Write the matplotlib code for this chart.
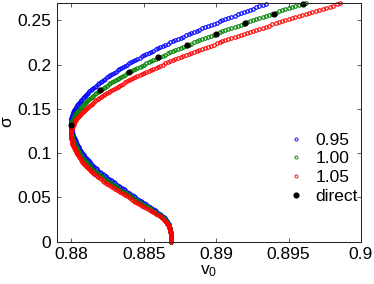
import matplotlib
matplotlib.use('Agg')
import matplotlib.pyplot as plt

plt.rcParams['font.family'] = ['Liberation Sans', 'DejaVu Sans']
plt.rcParams['font.size'] = 12.5
plt.rcParams['mathtext.fontset'] = 'custom'
plt.rcParams['mathtext.rm'] = 'Liberation Sans'
plt.rcParams['mathtext.it'] = 'Liberation Sans'

# v0 along the branch (lower branch from sigma=0, turning near 0.88, then upper branch)
v0 = [0.88690, 0.88690, 0.88690, 0.886895, 0.88689, 0.886885, 0.88688, 0.88687, 0.88686, 0.886845,
      0.88683, 0.886815, 0.88680, 0.886775, 0.88675, 0.886715, 0.88668, 0.88663, 0.88658, 0.886515,
      0.88645, 0.88637, 0.88629, 0.886195, 0.88610, 0.88599, 0.88588, 0.885765, 0.88565, 0.885525,
      0.88540, 0.885275, 0.88515, 0.88503, 0.88491, 0.88479, 0.88467, 0.88455, 0.88443, 0.884315,
      0.88420, 0.88408, 0.88396, 0.883845, 0.88373, 0.883615, 0.88350, 0.883385, 0.88327, 0.883155,
      0.88304, 0.88293, 0.88282, 0.88271, 0.88260, 0.88249, 0.88238, 0.882275, 0.88217, 0.88207,
      0.88197, 0.881875, 0.88178, 0.88169, 0.88160, 0.881515, 0.88143, 0.88135, 0.88127, 0.881195,
      0.88112, 0.88105, 0.88098, 0.88092, 0.88086, 0.88080, 0.88074, 0.88069, 0.88064, 0.880595,
      0.88055, 0.880505, 0.88046, 0.88042, 0.88038, 0.88034, 0.88030, 0.88026, 0.88022, 0.88019,
      0.88016, 0.88013, 0.88010, 0.88008, 0.88006, 0.88004, 0.88002, 0.880005, 0.87999, 0.87998,
      0.87997, 0.87997, 0.87997, 0.879975, 0.87998, 0.879995, 0.88001, 0.880025, 0.88004, 0.880065,
      0.88009, 0.880125, 0.88016, 0.88020, 0.88024, 0.88029, 0.88034, 0.880395, 0.88045, 0.88051,
      0.88057, 0.880635, 0.88070, 0.880775, 0.88085, 0.880925, 0.88100, 0.88108, 0.88116, 0.88125,
      0.88134, 0.88143, 0.88152, 0.881615, 0.88171, 0.881815, 0.88192, 0.882025, 0.88213, 0.88224,
      0.88235, 0.882465, 0.88258, 0.88270, 0.88282, 0.882945, 0.88307, 0.883195, 0.88332, 0.88345,
      0.88358, 0.883715, 0.88385, 0.88399, 0.88413, 0.884275, 0.88442, 0.88457, 0.88472, 0.88487,
      0.88502, 0.885175, 0.88533, 0.88549, 0.88565, 0.885815, 0.88598, 0.88615, 0.88632, 0.88649,
      0.88666, 0.886835, 0.88701, 0.88719, 0.88737, 0.88755, 0.88773, 0.887915, 0.88810, 0.888285,
      0.88847, 0.88866, 0.88885, 0.889045, 0.88924, 0.889435, 0.88963, 0.88983, 0.89003, 0.890235,
      0.89044, 0.890645, 0.89085, 0.89106, 0.89127, 0.89148, 0.89169, 0.891905, 0.89212, 0.892335,
      0.89255, 0.89277, 0.89299, 0.89321, 0.89343, 0.893655, 0.89388, 0.894105, 0.89433, 0.89456,
      0.89479, 0.89502, 0.89525, 0.89548, 0.89571, 0.895945, 0.89618, 0.896415, 0.89665, 0.896885,
      0.89712, 0.89736, 0.89760, 0.89784, 0.89808, 0.898325, 0.89857]

sigma_095 = [0, 0.00132, 0.00263, 0.00395, 0.00526, 0.00658, 0.00789, 0.00921, 0.01053, 0.01184,
             0.01316, 0.01447, 0.01579, 0.01711, 0.01842, 0.01974, 0.02105, 0.02237, 0.02368, 0.025,
             0.02632, 0.02763, 0.02895, 0.03026, 0.03158, 0.03289, 0.03421, 0.03553, 0.03684, 0.03816,
             0.03947, 0.04079, 0.04211, 0.04342, 0.04474, 0.04605, 0.04737, 0.04868,
             0.05, 0.05132, 0.05263, 0.05395, 0.05526, 0.05658, 0.05789, 0.05921, 0.06053, 0.06184,
             0.06316, 0.06447, 0.06579, 0.06711, 0.06842, 0.06974, 0.07105, 0.07237, 0.07368, 0.075,
             0.07632, 0.07763, 0.07895, 0.08026, 0.08158, 0.08289, 0.08421, 0.08553, 0.08684, 0.08816,
             0.08947, 0.09079, 0.09211, 0.09342, 0.09474, 0.09605, 0.09737, 0.09868,
             0.1, 0.10132, 0.10263, 0.10395, 0.10526, 0.10658, 0.10789, 0.10921, 0.11053, 0.11184,
             0.11316, 0.11447, 0.11579, 0.11711, 0.11842, 0.11974, 0.12105, 0.12237, 0.12368, 0.125,
             0.12632, 0.12763, 0.12895, 0.13026, 0.13158, 0.13289, 0.13421, 0.13553, 0.13684, 0.13816,
             0.13947, 0.14079, 0.14211, 0.14342, 0.14474, 0.14605, 0.14737, 0.14868,
             0.15, 0.15132, 0.15263, 0.15395, 0.15526, 0.15658, 0.15789, 0.15921, 0.16053, 0.16184,
             0.16316, 0.16447, 0.16579, 0.16711, 0.16842, 0.16974, 0.17105, 0.17237, 0.17368, 0.175,
             0.17632, 0.17763, 0.17895, 0.18026, 0.18158, 0.18289, 0.18421, 0.18553, 0.18684, 0.18816,
             0.18947, 0.19079, 0.19211, 0.19342, 0.19474, 0.19605, 0.19737, 0.19868,
             0.2, 0.20132, 0.20263, 0.20395, 0.20526, 0.20658, 0.20789, 0.20921, 0.21053, 0.21184,
             0.21316, 0.21447, 0.21579, 0.21711, 0.21842, 0.21974, 0.22105, 0.22237, 0.22368, 0.225,
             0.22632, 0.22763, 0.22895, 0.23026, 0.23158, 0.23289, 0.23421, 0.23553, 0.23684, 0.23816,
             0.23947, 0.24079, 0.24211, 0.24342, 0.24474, 0.24605, 0.24737, 0.24868,
             0.25, 0.25132, 0.25263, 0.25395, 0.25526, 0.25658, 0.25789, 0.25921, 0.26053, 0.26184,
             0.26316, 0.26447, 0.26579, 0.26711, 0.26842]

sigma_100 = [0, 0.00125, 0.0025, 0.00375, 0.005, 0.00625, 0.0075, 0.00875, 0.01, 0.01125,
             0.0125, 0.01375, 0.015, 0.01625, 0.0175, 0.01875, 0.02, 0.02125, 0.0225, 0.02375,
             0.025, 0.02625, 0.0275, 0.02875, 0.03, 0.03125, 0.0325, 0.03375, 0.035, 0.03625,
             0.0375, 0.03875, 0.04, 0.04125, 0.0425, 0.04375, 0.045, 0.04625, 0.0475, 0.04875,
             0.05, 0.05125, 0.0525, 0.05375, 0.055, 0.05625, 0.0575, 0.05875, 0.06, 0.06125,
             0.0625, 0.06375, 0.065, 0.06625, 0.0675, 0.06875, 0.07, 0.07125, 0.0725, 0.07375,
             0.075, 0.07625, 0.0775, 0.07875, 0.08, 0.08125, 0.0825, 0.08375, 0.085, 0.08625,
             0.0875, 0.08875, 0.09, 0.09125, 0.0925, 0.09375, 0.095, 0.09625, 0.0975, 0.09875,
             0.1, 0.10125, 0.1025, 0.10375, 0.105, 0.10625, 0.1075, 0.10875, 0.11, 0.11125,
             0.1125, 0.11375, 0.115, 0.11625, 0.1175, 0.11875, 0.12, 0.12125, 0.1225, 0.12375,
             0.125, 0.12625, 0.1275, 0.12875, 0.13, 0.13125, 0.1325, 0.13375, 0.135, 0.13625,
             0.1375, 0.13875, 0.14, 0.14125, 0.1425, 0.14375, 0.145, 0.14625, 0.1475, 0.14875,
             0.15, 0.15125, 0.1525, 0.15375, 0.155, 0.15625, 0.1575, 0.15875, 0.16, 0.16125,
             0.1625, 0.16375, 0.165, 0.16625, 0.1675, 0.16875, 0.17, 0.17125, 0.1725, 0.17375,
             0.175, 0.17625, 0.1775, 0.17875, 0.18, 0.18125, 0.1825, 0.18375, 0.185, 0.18625,
             0.1875, 0.18875, 0.19, 0.19125, 0.1925, 0.19375, 0.195, 0.19625, 0.1975, 0.19875,
             0.2, 0.20125, 0.2025, 0.20375, 0.205, 0.20625, 0.2075, 0.20875, 0.21, 0.21125,
             0.2125, 0.21375, 0.215, 0.21625, 0.2175, 0.21875, 0.22, 0.22125, 0.2225, 0.22375,
             0.225, 0.22625, 0.2275, 0.22875, 0.23, 0.23125, 0.2325, 0.23375, 0.235, 0.23625,
             0.2375, 0.23875, 0.24, 0.24125, 0.2425, 0.24375, 0.245, 0.24625, 0.2475, 0.24875,
             0.25, 0.25125, 0.2525, 0.25375, 0.255, 0.25625, 0.2575, 0.25875, 0.26, 0.26125,
             0.2625, 0.26375, 0.265, 0.26625, 0.2675, 0.26875, 0.27]

sigma_105 = [0, 0.00119, 0.00238, 0.00357, 0.00476, 0.00595, 0.00714, 0.00833, 0.00952, 0.01071,
             0.0119, 0.0131, 0.01429, 0.01548, 0.01667, 0.01786, 0.01905, 0.02024, 0.02143, 0.02262,
             0.02381, 0.025, 0.02619, 0.02738, 0.02857, 0.02976, 0.03095, 0.03214, 0.03333, 0.03452,
             0.03571, 0.0369, 0.0381, 0.03929, 0.04048, 0.04167, 0.04286, 0.04405, 0.04524, 0.04643,
             0.04762, 0.04881,
             0.05, 0.05119, 0.05238, 0.05357, 0.05476, 0.05595, 0.05714, 0.05833, 0.05952, 0.06071,
             0.0619, 0.0631, 0.06429, 0.06548, 0.06667, 0.06786, 0.06905, 0.07024, 0.07143, 0.07262,
             0.07381, 0.075, 0.07619, 0.07738, 0.07857, 0.07976, 0.08095, 0.08214, 0.08333, 0.08452,
             0.08571, 0.0869, 0.0881, 0.08929, 0.09048, 0.09167, 0.09286, 0.09405, 0.09524, 0.09643,
             0.09762, 0.09881,
             0.1, 0.10119, 0.10238, 0.10357, 0.10476, 0.10595, 0.10714, 0.10833, 0.10952, 0.11071,
             0.1119, 0.1131, 0.11429, 0.11548, 0.11667, 0.11786, 0.11905, 0.12024, 0.12143, 0.12262,
             0.12381, 0.125, 0.12619, 0.12738, 0.12857, 0.12976, 0.13095, 0.13214, 0.13333, 0.13452,
             0.13571, 0.1369, 0.1381, 0.13929, 0.14048, 0.14167, 0.14286, 0.14405, 0.14524, 0.14643,
             0.14762, 0.14881,
             0.15, 0.15119, 0.15238, 0.15357, 0.15476, 0.15595, 0.15714, 0.15833, 0.15952, 0.16071,
             0.1619, 0.1631, 0.16429, 0.16548, 0.16667, 0.16786, 0.16905, 0.17024, 0.17143, 0.17262,
             0.17381, 0.175, 0.17619, 0.17738, 0.17857, 0.17976, 0.18095, 0.18214, 0.18333, 0.18452,
             0.18571, 0.1869, 0.1881, 0.18929, 0.19048, 0.19167, 0.19286, 0.19405, 0.19524, 0.19643,
             0.19762, 0.19881,
             0.2, 0.20119, 0.20238, 0.20357, 0.20476, 0.20595, 0.20714, 0.20833, 0.20952, 0.21071,
             0.2119, 0.2131, 0.21429, 0.21548, 0.21667, 0.21786, 0.21905, 0.22024, 0.22143, 0.22262,
             0.22381, 0.225, 0.22619, 0.22738, 0.22857, 0.22976, 0.23095, 0.23214, 0.23333, 0.23452,
             0.23571, 0.2369, 0.2381, 0.23929, 0.24048, 0.24167, 0.24286, 0.24405, 0.24524, 0.24643,
             0.24762, 0.24881,
             0.25, 0.25119, 0.25238, 0.25357, 0.25476, 0.25595, 0.25714, 0.25833, 0.25952, 0.26071,
             0.2619, 0.2631, 0.26429, 0.26548, 0.26667, 0.26786, 0.26905]

direct_v0 = [0.880, 0.882, 0.884, 0.886, 0.888, 0.890, 0.892, 0.894, 0.896]
direct_sigma = [0.132, 0.171, 0.192, 0.208, 0.222, 0.235, 0.247, 0.257, 0.268]

series_labels = ['0.95', '1.00', '1.05']
series_colors = ['#0000ff', '#008000', '#ff0000']

fig = plt.figure(figsize=(3.74, 2.84), dpi=100)
ax = fig.add_axes([0.152, 0.149, 0.813, 0.842])

for s, c, lab in zip([sigma_095, sigma_100, sigma_105], series_colors, series_labels):
    n = min(len(v0), len(s))
    ax.plot(v0[:n], s[:n], 'o', ls='none', mfc='none', mec=c, ms=2.5, mew=0.8,
            label=lab, clip_on=False)
ax.plot(direct_v0, direct_sigma, 'o', ls='none', color='k', ms=3.4, label='direct', clip_on=False)

ax.set_xlim(0.879, 0.9)
ax.set_ylim(0, 0.27)
ax.set_xticks([0.88, 0.885, 0.89, 0.895, 0.9])
ax.set_xticklabels(['0.88', '0.885', '0.89', '0.895', '0.9'])
ax.set_yticks([0, 0.05, 0.1, 0.15, 0.2, 0.25])
ax.set_yticklabels(['0', '0.05', '0.1', '0.15', '0.2', '0.25'])
ax.tick_params(direction='in', top=True, right=True, length=3, width=0.6,
               color='#404040', pad=4)
for sp in ax.spines.values():
    sp.set_linewidth(0.75)
    sp.set_color('#262626')

ax.set_xlabel(r'$\mathrm{v}_0$', labelpad=1)
ax.set_ylabel('σ', labelpad=2)

leg = ax.legend(loc='lower right', bbox_to_anchor=(0.99, 0.159), frameon=False, numpoints=1,
                handlelength=1.0, handletextpad=0.6, labelspacing=0.2, borderaxespad=0, borderpad=0)
for h in leg.legend_handles[:3]:
    h.set_markersize(2.2)
    h.set_markeredgewidth(0.65)

fig.savefig('out.png', dpi=100)
